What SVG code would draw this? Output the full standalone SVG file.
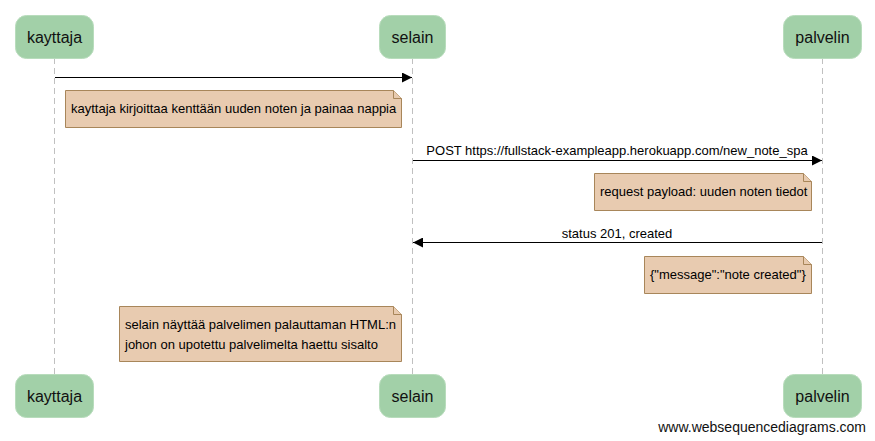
<svg xmlns="http://www.w3.org/2000/svg" width="875" height="441" viewBox="0 0 875 441">
<defs>
<style>
.actor rect{fill:#a2d0a8;stroke:#b8dcbc;stroke-width:1}
.actor text{font-family:"Liberation Sans",Arial,sans-serif;font-size:16px;fill:#111;text-anchor:middle}
.life{stroke:#c0c0c0;stroke-width:1;stroke-dasharray:6,4;fill:none}
.msg{stroke:#000;stroke-width:1;fill:none}
.lbl{font-family:"Liberation Sans",Arial,sans-serif;font-size:13px;fill:#000}
.note path{fill:#e8cbb0;stroke:#a8865a;stroke-width:1}
.note text{font-family:"Liberation Sans",Arial,sans-serif;font-size:13px;fill:#000}
</style>
<marker id="ah" viewBox="0 0 10 10" refX="10" refY="5" markerWidth="10" markerHeight="10" markerUnits="userSpaceOnUse" orient="auto">
<path d="M0,0 L10,5 L0,10 z" fill="#000"/>
</marker>
</defs>
<rect width="875" height="441" fill="#fff"/>
<g id="lifelines">
<line class="life" x1="54.5" y1="58" x2="54.5" y2="375"/>
<line class="life" x1="412.5" y1="58" x2="412.5" y2="375"/>
<line class="life" x1="822.5" y1="58" x2="822.5" y2="375"/>
</g>
<g id="kayttaja" class="actor">
<rect x="15.5" y="15.5" width="78" height="43" rx="11"/>
<text x="54.5" y="43">kayttaja</text>
<rect x="15.5" y="374.5" width="78" height="43" rx="11"/>
<text x="54.5" y="402">kayttaja</text>
</g>
<g id="selain" class="actor">
<rect x="379.5" y="15.5" width="66" height="43" rx="11"/>
<text x="412.5" y="43">selain</text>
<rect x="379.5" y="374.5" width="66" height="43" rx="11"/>
<text x="412.5" y="402">selain</text>
</g>
<g id="palvelin" class="actor">
<rect x="783.5" y="15.5" width="78" height="43" rx="11"/>
<text x="822.5" y="43">palvelin</text>
<rect x="783.5" y="374.5" width="78" height="43" rx="11"/>
<text x="822.5" y="402">palvelin</text>
</g>
<g id="connectors">
<line class="msg" x1="55" y1="77.5" x2="412" y2="77.5" marker-end="url(#ah)"/>
<line class="msg" x1="413" y1="160.5" x2="822" y2="160.5" marker-end="url(#ah)"/>
<text class="lbl" x="617" y="155" text-anchor="middle">POST https://fullstack-exampleapp.herokuapp.com/new_note_spa</text>
<line class="msg" x1="822" y1="242.5" x2="413" y2="242.5" marker-end="url(#ah)"/>
<text class="lbl" x="617" y="238" text-anchor="middle">status 201, created</text>
</g>
<g id="note1" class="note">
<path d="M65.5,90.5 H393.5 L401.5,98.5 V127.5 H65.5 Z"/>
<path d="M393.5,90.5 V98.5 H401.5" fill="none"/>
<text x="71" y="113">kayttaja kirjoittaa kenttään uuden noten ja painaa nappia</text>
</g>
<g id="note2" class="note">
<path d="M594.5,173.5 H803.5 L811.5,181.5 V210.5 H594.5 Z"/>
<path d="M803.5,173.5 V181.5 H811.5" fill="none"/>
<text x="600" y="196">request payload: uuden noten tiedot</text>
</g>
<g id="note3" class="note">
<path d="M644.5,256.5 H803.5 L811.5,264.5 V293.5 H644.5 Z"/>
<path d="M803.5,256.5 V264.5 H811.5" fill="none"/>
<text x="650" y="279">{"message":"note created"}</text>
</g>
<g id="note4" class="note">
<path d="M119.5,306.5 H393.5 L401.5,314.5 V361.5 H119.5 Z"/>
<path d="M393.5,306.5 V314.5 H401.5" fill="none"/>
<text x="125" y="329">selain näyttää palvelimen palauttaman HTML:n</text>
<text x="125" y="349">johon on upotettu palvelimelta haettu sisalto</text>
</g>
<text x="866" y="432" text-anchor="end" style="font-family:'Liberation Sans',Arial,sans-serif;font-size:14px;fill:#111">www.websequencediagrams.com</text>
</svg>
